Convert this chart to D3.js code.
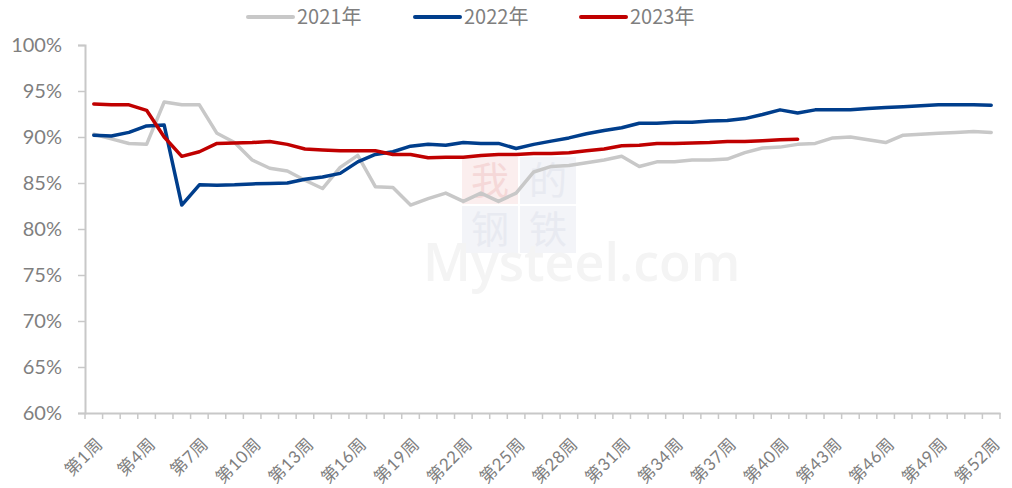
<!DOCTYPE html>
<html>
<head>
<meta charset="utf-8">
<script src="https://cdn.jsdelivr.net/npm/d3@7"></script>
<style>
  body { margin: 0; background: #fff; }
  svg text { font-family: Lato, "Noto Sans CJK SC", sans-serif; fill: #7f7f7f; }
</style>
</head>
<body>
<div id="chart"></div>
<script>
// weeks 1..52
var weeks = d3.range(1, 53).map(function(w){ return "第" + w + "周"; });
var yTicks = [60, 65, 70, 75, 80, 85, 90, 95, 100];
var seriesNames = ["2021年", "2022年", "2023年"];
var seriesColors = ["#c8c8c8", "#003e8c", "#c00000"];

var y2021 = [90.3, 89.8, 89.3, 89.2, 93.8, 93.5, 93.5, 90.4, 89.4, 87.5,
             86.6, 86.3, 85.3, 84.4, 86.7, 88.0, 84.6, 84.5, 82.6, 83.3,
             83.9, 83.0, 83.9, 83.0, 83.9, 86.2, 86.8, 86.9, 87.2, 87.5,
             87.9, 86.8, 87.3, 87.3, 87.5, 87.5, 87.6, 88.3, 88.8, 88.9,
             89.2, 89.3, 89.9, 90.0, 89.7, 89.4, 90.2, 90.3, 90.4, 90.5,
             90.6, 90.5];
var y2022 = [90.2, 90.1, 90.5, 91.2, 91.3, 82.6, 84.8, 84.75, 84.8, 84.9,
             84.95, 85.0, 85.4, 85.65, 86.05, 87.3, 88.1, 88.4, 89.0, 89.2,
             89.1, 89.4, 89.3, 89.3, 88.75, 89.2, 89.55, 89.9, 90.35, 90.7,
             91.0, 91.5, 91.5, 91.6, 91.6, 91.75, 91.8, 92.0, 92.45, 92.95,
             92.6, 92.95, 92.95, 92.95, 93.1, 93.2, 93.3, 93.4, 93.5, 93.5,
             93.5, 93.45];
var y2023 = [93.6, 93.5, 93.5, 92.9, 90.0, 87.9, 88.4, 89.3, 89.35, 89.4,
             89.5, 89.2, 88.7, 88.6, 88.5, 88.5, 88.5, 88.1, 88.1, 87.75,
             87.8, 87.8, 88.0, 88.1, 88.1, 88.2, 88.2, 88.3, 88.5, 88.7,
             89.05, 89.1, 89.3, 89.3, 89.35, 89.4, 89.5, 89.5, 89.6, 89.7,
             89.75];

var width = 1012, height = 488;
var margin = {top: 45, right: 12, bottom: 75, left: 85};

var svg = d3.select("#chart").append("svg")
            .attr("width", width)
            .attr("height", height);

var x = d3.scaleBand()
          .domain(weeks)
          .range([margin.left, 1000]);

var y = d3.scaleLinear()
          .domain([60, 100])
          .range([413, margin.top]);

// watermark
var wm = svg.append("g").attr("class", "watermark");
var wmChars = ["我", "的", "钢", "铁"];
var wmFill = ["#fbeeee", "#f3f4f8", "#f3f4f8", "#f3f4f8"];
var wmText = ["#f5d8d8", "#e8eaf1", "#e8eaf1", "#e8eaf1"];
wmChars.forEach(function(c, i){
  var bx = 462 + (i % 2) * 58, by = 157 + Math.floor(i / 2) * 49;
  wm.append("rect").attr("x", bx).attr("y", by).attr("width", 56).attr("height", 47)
    .attr("fill", wmFill[i]);
  wm.append("text").attr("x", bx + 28).attr("y", by + 37).attr("text-anchor", "middle")
    .style("font-size", "38px").style("font-family", "'Noto Sans CJK SC'")
    .style("fill", wmText[i]).text(c);
});
wm.append("text").attr("x", 423).attr("y", 281)
  .style("font-size", "52px").style("font-family", "'Open Sans', sans-serif")
  .style("font-weight", "600").style("fill", "#f4f4f4")
  .text("Mysteel.com");

// y axis
var yAxis = svg.append("g")
   .attr("transform", "translate(" + margin.left + ",0)")
   .call(d3.axisLeft(y).tickValues(yTicks).tickSize(7).tickPadding(16)
          .tickFormat(function(d){ return d + "%"; }));
yAxis.selectAll("text").style("font-size", "20px");

// x axis
var xAxis = svg.append("g")
   .attr("transform", "translate(0," + y(60) + ")")
   .call(d3.axisBottom(x).tickSize(0).tickFormat(""));

svg.append("g").selectAll("line")
   .data(d3.range(0, 53))
   .enter().append("line")
   .attr("x1", function(i){ return margin.left + i * x.step(); })
   .attr("x2", function(i){ return margin.left + i * x.step(); })
   .attr("y1", y(60)).attr("y2", y(60) + 6)
   .attr("stroke", "#c8c8c8").attr("stroke-width", 1.5);

svg.selectAll(".domain").attr("stroke", "#c8c8c8").attr("stroke-width", 2);
yAxis.selectAll(".tick line").attr("stroke", "#c8c8c8").attr("stroke-width", 1.5);

svg.append("g").selectAll("text")
   .data(weeks.filter(function(d, i){ return i % 3 === 0; }))
   .enter().append("text")
   .attr("transform", function(d){
     return "translate(" + (x(d) + x.bandwidth() / 2 + 10) + "," + (y(60) + 32) + ") rotate(-45)";
   })
   .attr("text-anchor", "end")
   .style("font-size", "17px")
   .style("letter-spacing", "0.5px")
   .text(function(d){ return d; });

// lines
var line = d3.line()
   .x(function(d, i){ return x(weeks[i]) + x.bandwidth() / 2; })
   .y(function(d){ return y(d); });

[y2021, y2022, y2023].forEach(function(data, k){
  svg.append("path")
     .datum(data)
     .attr("fill", "none")
     .attr("stroke", seriesColors[k])
     .attr("stroke-width", 3.5)
     .attr("stroke-linejoin", "round")
     .attr("stroke-linecap", "round")
     .attr("d", line);
});

// legend
var legendX = [248, 415, 581];
var legend = svg.append("g");
seriesNames.forEach(function(name, k){
  legend.append("line")
     .attr("x1", legendX[k]).attr("x2", legendX[k] + 45)
     .attr("y1", 17).attr("y2", 17)
     .attr("stroke", seriesColors[k]).attr("stroke-width", 4)
     .attr("stroke-linecap", "round");
  legend.append("text")
     .attr("x", legendX[k] + 49).attr("y", 17)
     .attr("dy", "0.35em")
     .style("font-size", "20px")
     .style("font-family", "'Liberation Sans Narrow', 'Noto Sans CJK SC', sans-serif")
     .text(name);
});
</script>
</body>
</html>
